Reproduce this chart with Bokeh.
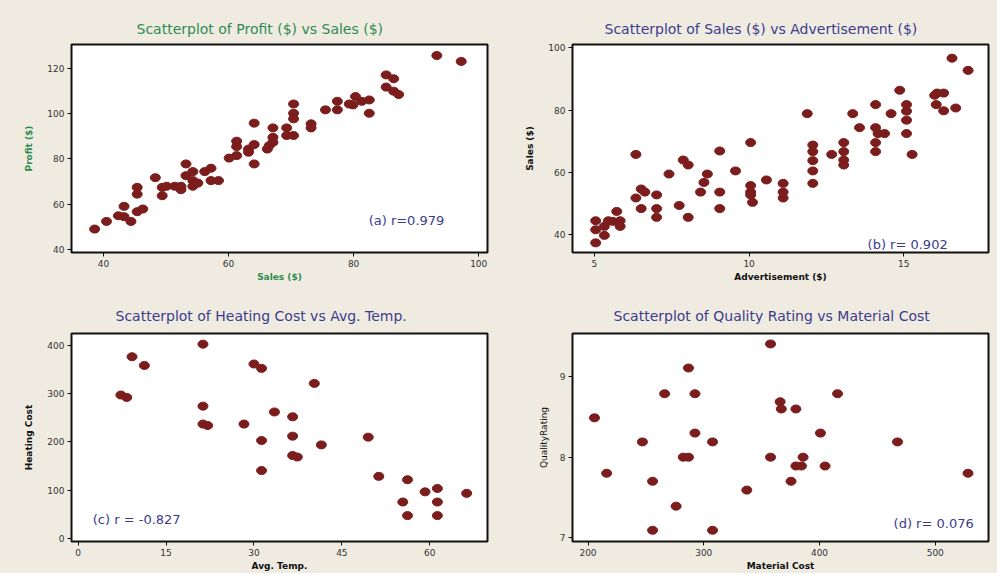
from bokeh.plotting import figure
from bokeh.layouts import gridplot
from bokeh.models import Label, Range1d, FixedTicker
from bokeh.embed import file_html
from bokeh.resources import INLINE

# ---- data ----
sales_a = [38.6, 40.5, 42.4, 43.3, 43.3, 44.4, 45.4, 45.4, 45.4, 46.3, 48.3, 49.4, 49.4, 50.1, 51.4, 52.4, 52.4,
           53.2, 53.2, 54.3, 54.3, 54.3, 55.1, 56.2, 57.2, 57.2, 58.4, 60.1, 61.3, 61.3, 61.3, 63.2, 63.2, 64.1,
           64.1, 64.1, 66.2, 66.5, 67.1, 67.1, 67.1, 69.3, 69.3, 70.4, 70.4, 70.4, 70.4, 73.2, 73.2, 75.5, 77.4,
           77.4, 79.3, 80.3, 79.9, 81.3, 82.5, 82.5, 85.2, 85.2, 86.4, 86.4, 87.2, 93.3, 97.2]
profit_a = [48.9, 52.3, 54.8, 59.0, 54.4, 52.3, 67.4, 64.4, 56.6, 57.8, 71.7, 67.4, 63.7, 67.9, 67.9, 67.9, 66.4,
            77.8, 72.6, 74.4, 70.4, 67.9, 69.3, 74.4, 75.9, 70.4, 70.4, 80.4, 81.5, 85.5, 87.9, 83.0, 84.4, 95.9,
            86.4, 77.8, 84.4, 85.9, 93.8, 89.6, 87.4, 93.8, 90.4, 104.4, 100.3, 97.8, 90.4, 95.6, 93.8, 101.8, 105.6,
            101.8, 104.4, 107.7, 104.0, 105.6, 106.2, 100.3, 117.3, 111.9, 115.6, 110.1, 108.6, 125.9, 123.3]

adv_b = [5.04, 5.04, 5.04, 5.32, 5.32, 5.45, 5.59, 5.72, 5.83, 5.83, 6.34, 6.34, 6.51, 6.63, 6.51, 7.01, 7.01, 7.01,
         7.41, 7.74, 7.87, 8.03, 8.03, 8.43, 8.54, 8.65, 9.05, 9.05, 9.05, 9.56, 10.05, 10.05, 10.05, 10.05, 10.11,
         10.56, 11.10, 11.10, 11.10, 11.88, 12.06, 12.06, 12.06, 12.06, 12.06, 12.67, 13.06, 13.06, 13.06, 13.06,
         13.35, 13.57, 14.09, 14.09, 14.17, 14.38, 14.09, 14.09, 14.59, 14.87, 15.09, 15.09, 15.09, 15.09, 15.27,
         16.0, 16.08, 16.29, 16.05, 16.29, 16.68, 16.56, 17.08]
sales_b = [44.5, 41.6, 37.4, 39.8, 42.7, 44.5, 44.3, 47.5, 44.5, 42.7, 65.8, 51.8, 54.7, 53.7, 48.4, 52.8, 48.4, 45.6,
           59.5, 49.4, 64.0, 62.4, 45.6, 53.7, 56.8, 59.5, 66.9, 53.7, 48.4, 60.5, 69.6, 55.8, 53.7, 52.8, 50.4,
           57.6, 56.5, 53.7, 51.8, 78.9, 68.8, 66.7, 63.8, 60.5, 56.5, 65.8, 69.6, 66.7, 64.0, 62.4,
           78.9, 74.4, 81.8, 74.4, 72.5, 72.5, 69.6, 66.7, 78.9, 86.4, 81.8, 79.7, 76.8, 72.5, 65.8,
           84.8, 85.5, 85.5, 81.8, 79.8, 80.7, 96.7, 92.8]

temp_c = [7.3, 8.3, 9.2, 11.3, 21.3, 21.3, 21.3, 22.1, 28.3, 30.0, 31.3, 31.3, 31.3, 33.5, 36.6, 36.6, 36.6, 37.4,
          40.3, 41.5, 49.5, 51.3, 56.2, 55.4, 56.2, 59.2, 61.3, 61.3, 61.3, 66.3]
cost_c = [297, 292, 376, 358, 402, 274, 237, 234, 237, 361, 352, 203, 141, 262, 252, 212, 172, 169,
          321, 194, 210, 129, 122, 76, 48, 97, 104, 76, 48, 94]

mat_d = [205.6, 216.1, 247.0, 255.8, 255.8, 266.2, 276.1, 282.3, 286.8, 286.8, 292.4, 292.4, 307.6, 307.6, 337.2,
         357.7, 357.7, 366.0, 367.0, 379.6, 415.6, 400.8, 385.8, 379.6, 384.4, 404.8, 375.4, 467.4, 528.3]
rating_d = [8.49, 7.80, 8.19, 7.70, 7.09, 8.79, 7.39, 8.00, 8.00, 9.11, 8.79, 8.30, 8.19, 7.09, 7.59,
            9.41, 8.00, 8.69, 8.60, 8.60, 8.79, 8.30, 8.00, 7.89, 7.89, 7.89, 7.70, 8.19, 7.80]

titles = ["Scatterplot of Profit ($) vs Sales ($)",
          "Scatterplot of Sales ($) vs Advertisement ($)",
          "Scatterplot of Heating Cost vs Avg. Temp.",
          "Scatterplot of Quality Rating vs Material Cost"]
x_labels = ["Sales ($)", "Advertisement ($)", "Avg. Temp.", "Material Cost"]
y_labels = ["Profit ($)", "Sales ($)", "Heating Cost", "QualityRating"]
r_texts = ["(a) r=0.979", "(b) r=  0.902", "(c) r =  -0.827", "(d) r=  0.076"]
x_ticks = [[40, 60, 80, 100], [5, 10, 15], [0, 15, 30, 45, 60], [200, 300, 400, 500]]
y_ticks = [[40, 60, 80, 100, 120], [40, 60, 80, 100], [0, 100, 200, 300, 400], [7, 8, 9]]

BG = "#EFEBE1"
DOT = "#7B1D1D"
GREEN = "#2E8B50"
NAVY = "#3C3C8C"
FONT = "DejaVu Sans"


def panel(xs, ys, i, w, h, xr, yr, borders, title_color, label_color, title_off, title_standoff,
          r_pos, ylab_standoff):
    p = figure(width=w, height=h, output_backend="svg", toolbar_location=None,
               x_range=Range1d(*xr), y_range=Range1d(*yr),
               min_border_left=borders[0], min_border_right=borders[1],
               min_border_top=borders[2], min_border_bottom=borders[3])
    p.background_fill_color = "white"
    p.border_fill_color = BG
    p.outline_line_color = "#111111"
    p.outline_line_width = 2
    p.grid.visible = False
    p.title.text = titles[i]
    p.title.text_color = title_color
    p.title.text_font = FONT
    p.title.text_font_size = "14px"
    p.title.text_font_style = "normal"
    p.title.align = "left"
    p.title.offset = title_off
    p.title.standoff = title_standoff
    for ax in (p.xaxis[0], p.yaxis[0]):
        ax.axis_line_color = None
        ax.major_tick_line_color = "#111111"
        ax.major_tick_line_width = 1
        ax.major_tick_out = 4
        ax.major_tick_in = 0
        ax.minor_tick_line_color = None
        ax.major_label_text_font = FONT
        ax.major_label_text_font_size = "9px"
        ax.major_label_text_color = "#333333"
        ax.major_label_standoff = 3
        ax.axis_label_text_font = FONT
        ax.axis_label_text_font_size = "9px"
        ax.axis_label_text_font_style = "bold"
        ax.axis_label_text_color = label_color
    p.yaxis[0].axis_label_text_font_style = "normal" if i == 3 else "bold"
    p.xaxis[0].ticker = FixedTicker(ticks=x_ticks[i])
    p.yaxis[0].ticker = FixedTicker(ticks=y_ticks[i])
    p.xaxis[0].axis_label = x_labels[i]
    p.yaxis[0].axis_label = y_labels[i]
    p.xaxis[0].axis_label_standoff = 2
    p.yaxis[0].axis_label_standoff = ylab_standoff
    p.ellipse(x=xs, y=ys, width=10, height=8, width_units="screen", height_units="screen",
              fill_color=DOT, line_color=DOT)
    p.add_layout(Label(x=r_pos[0], y=r_pos[1], text=r_texts[i], text_font=FONT, text_font_size="13px",
                       text_color=NAVY, text_baseline="middle", text_align="left", level="overlay"))
    return p


p1 = panel(sales_a, profit_a, 0, 503, 293, (34.9, 101.4), (38.5, 130.8), (71, 16, 44, 41),
           GREEN, GREEN, 65, 15, (82.4, 52.6), 10)
p2 = panel(adv_b, sales_b, 1, 494, 293, (4.29, 17.74), (34.3, 101.1), (69, 9, 44, 41),
           NAVY, "#111111", 32, 15, (13.83, 36.9), 10)
p3 = panel(temp_c, cost_c, 2, 503, 280, (-1.13, 69.85), (-5.5, 424), (68, 16, 40, 31),
           NAVY, "#111111", 44, 20, (2.5, 39.2), 10)
p4 = panel(mat_d, rating_d, 3, 494, 280, (186.6, 546), (6.95, 9.54), (58, 8, 40, 31),
           NAVY, "#111111", 41, 20, (464, 7.17), 8)

grid = gridplot([[p1, p2], [p3, p4]], toolbar_location=None)
grid.styles = {"background-color": BG}
open("out.html", "w").write(file_html(grid, INLINE))
